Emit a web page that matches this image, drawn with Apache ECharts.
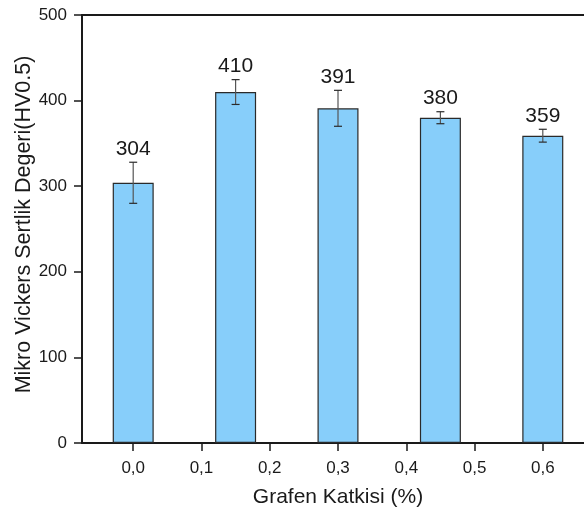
<!DOCTYPE html>
<html>
<head>
<meta charset="utf-8">
<script src="https://cdn.jsdelivr.net/npm/echarts@6/dist/echarts.min.js"></script>
<style>
  html, body { margin: 0; padding: 0; background: #fff; }
  #chart { width: 584px; height: 516px; }
</style>
</head>
<body>
<div id="chart"></div>
<script>
// Graphene content (%) of each sample and its micro Vickers hardness
const grafenKatkisi = [0.0, 0.15, 0.3, 0.45, 0.6];
const sertlik = [304, 410, 391, 380, 359];
const sertlikHata = [24, 14.5, 21, 7, 7.5];
const xTickValues = [0.0, 0.1, 0.2, 0.3, 0.4, 0.5, 0.6];

const FONT = 'Liberation Sans, Arial, sans-serif';
const INK = '#1a1a1a';

const barData = grafenKatkisi.map((x, i) => [x, sertlik[i]]);
const errData = grafenKatkisi.map((x, i) => [x, sertlik[i], sertlikHata[i]]);

const chart = echarts.init(document.getElementById('chart'), null, { renderer: 'canvas' });

chart.setOption({
  animation: false,
  backgroundColor: '#fff',
  grid: { left: 82, right: -10, top: 15, bottom: 73, containLabel: false, outerBoundsMode: 'none' },
  xAxis: [
    {
      type: 'value',
      min: -0.075,
      max: 0.675,
      position: 'bottom',
      name: 'Grafen Katkisi (%)',
      nameLocation: 'middle',
      nameGap: 44,
      nameMoveOverlap: false,
      nameTextStyle: { fontFamily: FONT, fontSize: 21, color: INK },
      splitLine: { show: false },
      axisLine: { show: true, onZero: false, lineStyle: { color: INK, width: 2 } },
      axisTick: {
        show: true, inside: false, length: 8,
        customValues: xTickValues,
        lineStyle: { color: INK, width: 1.5 }
      },
      axisLabel: {
        show: true, margin: 17,
        customValues: xTickValues,
        fontFamily: FONT, fontSize: 17, color: INK,
        formatter: v => v.toFixed(1).replace('.', ',')
      }
    },
    {
      // top frame line
      type: 'value',
      min: -0.075,
      max: 0.675,
      position: 'top',
      splitLine: { show: false },
      axisLine: { show: true, onZero: false, lineStyle: { color: INK, width: 2 } },
      axisTick: { show: false },
      axisLabel: { show: false }
    }
  ],
  yAxis: {
    type: 'value',
    min: 0,
    max: 500,
    interval: 100,
    name: 'Mikro Vickers Sertlik Degeri(HV0.5)',
    nameLocation: 'middle',
    nameGap: 47,
    nameMoveOverlap: false,
    nameTextStyle: { fontFamily: FONT, fontSize: 21.5, color: INK, padding: [0, 0, 0, 9] },
    splitLine: { show: false },
    axisLine: { show: true, onZero: false, lineStyle: { color: INK, width: 2 } },
    axisTick: { show: true, inside: false, length: 8, lineStyle: { color: INK, width: 1.5 } },
    axisLabel: { margin: 15, fontFamily: FONT, fontSize: 17, color: INK }
  },
  series: [
    {
      type: 'bar',
      xAxisIndex: 0,
      data: barData,
      barWidth: 41,
      itemStyle: { color: '#87CEFA', borderColor: '#2a2a2a', borderWidth: 1.2 },
      z: 2
    },
    {
      type: 'custom',
      xAxisIndex: 0,
      data: errData,
      z: 5,
      renderItem: function (params, api) {
        const x = api.value(0);
        const v = api.value(1);
        const e = api.value(2);
        const top = api.coord([x, v + e]);
        const bot = api.coord([x, v - e]);
        const cap = 4;
        const style = { stroke: '#2a2a2a', lineWidth: 1.2 };
        return {
          type: 'group',
          children: [
            { type: 'line', shape: { x1: top[0], y1: top[1], x2: bot[0], y2: bot[1] }, style: Object.assign({}, style, { stroke: '#555' }) },
            { type: 'line', shape: { x1: top[0] - cap, y1: top[1], x2: top[0] + cap, y2: top[1] }, style: style },
            { type: 'line', shape: { x1: bot[0] - cap, y1: bot[1], x2: bot[0] + cap, y2: bot[1] }, style: style },
            {
              type: 'text',
              x: top[0],
              y: top[1] - 3,
              style: {
                text: String(v),
                fontFamily: FONT,
                fontSize: 21,
                fill: INK,
                align: 'center',
                verticalAlign: 'bottom'
              }
            }
          ]
        };
      }
    }
  ]
});
</script>
</body>
</html>
